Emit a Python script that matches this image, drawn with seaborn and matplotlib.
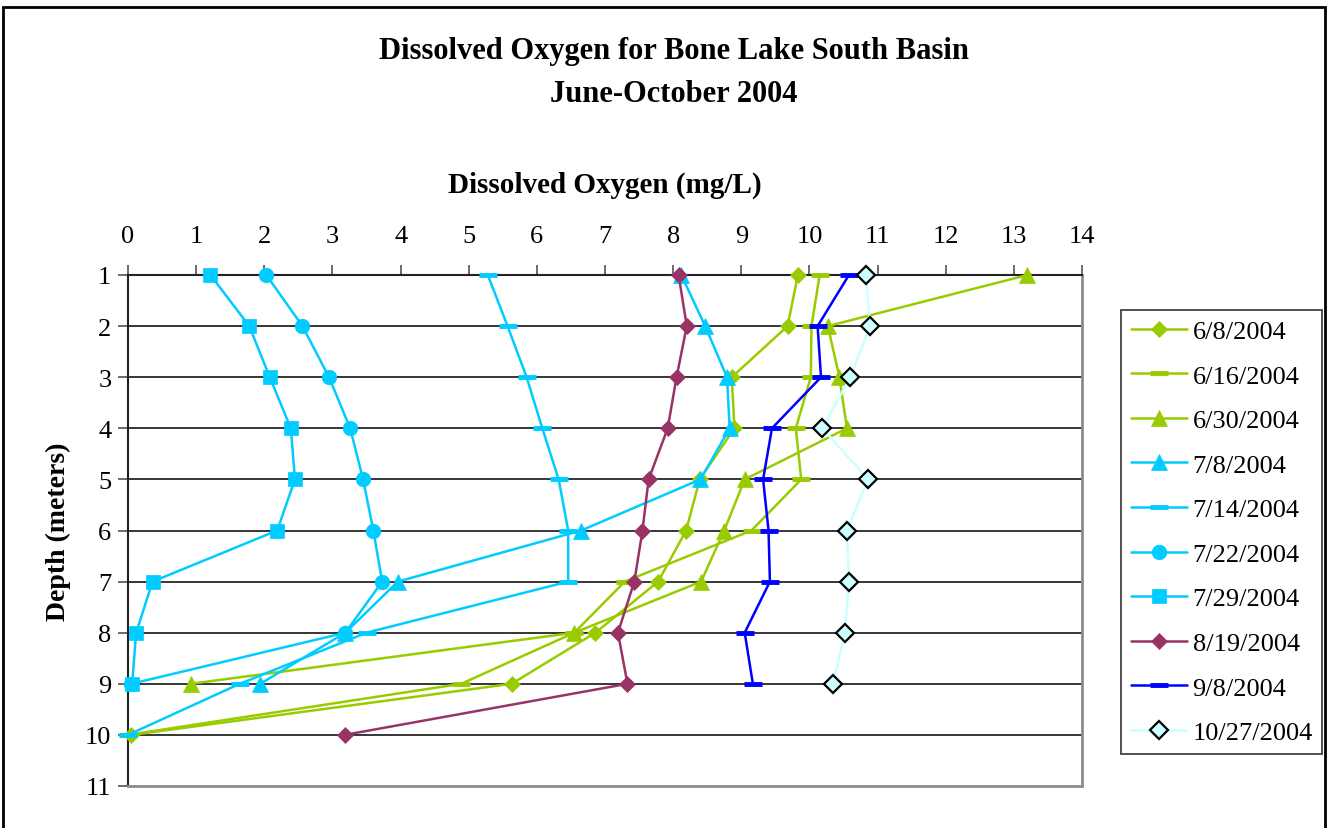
import matplotlib
matplotlib.use("Agg")
import matplotlib.pyplot as plt
import pandas as pd
import seaborn as sns
from matplotlib.patches import Rectangle
from matplotlib.lines import Line2D

# Dissolved oxygen profiles (mg/L) by depth (m), Bone Lake South Basin, 2004
depths = [1, 2, 3, 4, 5, 6, 7, 8, 9, 10]
dates = ["6/8/2004", "6/16/2004", "6/30/2004", "7/8/2004", "7/14/2004",
         "7/22/2004", "7/29/2004", "8/19/2004", "9/8/2004", "10/27/2004"]

do_0608 = [9.83, 9.68, 8.86, 8.90, 8.39, 8.19, 7.78, 6.86, 5.63, 0.05]
do_0616 = [10.15, 10.03, 10.02, 9.80, 9.88, 9.15, 7.29, 6.55, 4.89, 0.00]
do_0630 = [13.20, 10.27, 10.44, 10.55, 9.05, 8.75, 8.41, 6.55, 0.92]
do_0708 = [8.12, 8.47, 8.79, 8.83, 8.40, 6.65, 3.96, 3.19, 1.94]
do_0714 = [5.28, 5.57, 5.85, 6.08, 6.32, 6.46, 6.46, 3.50, 1.64, 0.00]
do_0722 = [2.03, 2.56, 2.95, 3.26, 3.45, 3.60, 3.73, 3.19, 0.05]
do_0729 = [1.21, 1.78, 2.08, 2.39, 2.45, 2.19, 0.36, 0.12, 0.06]
do_0819 = [8.08, 8.20, 8.05, 7.92, 7.64, 7.55, 7.43, 7.19, 7.33, 3.18]
do_0908 = [10.58, 10.12, 10.17, 9.45, 9.32, 9.40, 9.42, 9.05, 9.17]
do_1027 = [10.83, 10.89, 10.60, 10.19, 10.86, 10.55, 10.58, 10.52, 10.35]

series = [do_0608, do_0616, do_0630, do_0708, do_0714,
          do_0722, do_0729, do_0819, do_0908, do_1027]

GREEN = "#99CC00"
CYAN = "#00CCFF"
PURPLE = "#993366"
BLUE = "#0000FF"
PALE = "#CCFFFF"

styles = [
    dict(color=GREEN, marker="D", ms=8.5, mfc=GREEN, mec=GREEN, mew=0.5),
    dict(color=GREEN, marker="_", ms=13, mfc=GREEN, mec=GREEN, mew=3.5),
    dict(color=GREEN, marker="^", ms=11, mfc=GREEN, mec=GREEN, mew=0.5),
    dict(color=CYAN, marker="^", ms=11, mfc=CYAN, mec=CYAN, mew=0.5),
    dict(color=CYAN, marker="_", ms=13, mfc=CYAN, mec=CYAN, mew=3.5),
    dict(color=CYAN, marker="o", ms=10.5, mfc=CYAN, mec=CYAN, mew=0.5),
    dict(color=CYAN, marker="s", ms=10.5, mfc=CYAN, mec=CYAN, mew=0.5),
    dict(color=PURPLE, marker="D", ms=8.5, mfc=PURPLE, mec=PURPLE, mew=0.5),
    dict(color=BLUE, marker="_", ms=13, mfc=BLUE, mec=BLUE, mew=3.5),
    dict(color=PALE, marker="D", ms=9.5, mfc=PALE, mec="black", mew=1.6),
]

frames = []
for date, vals in zip(dates, series):
    frames.append(pd.DataFrame({"date": date, "depth": depths[:len(vals)], "do": vals}))
df = pd.concat(frames, ignore_index=True)

sns.set_style("white")
plt.rcParams["font.family"] = ["Liberation Serif", "DejaVu Serif"]
plt.rcParams["text.color"] = "black"
plt.rcParams["xtick.color"] = "black"
plt.rcParams["ytick.color"] = "black"
plt.rcParams["axes.labelcolor"] = "black"

fig = plt.figure(figsize=(13.29, 8.29), dpi=100)
ax = fig.add_axes([128 / 1329, 1 - 787 / 829, (1082 - 128) / 1329, (787 - 276) / 829])

# horizontal gridlines at each metre
for d in range(2, 11):
    ax.axhline(d, color="black", lw=1.1, zorder=0.5)

handles = []
for date, st in zip(dates, styles):
    sub = df[df["date"] == date]
    sns.lineplot(data=sub, x="do", y="depth", orient="y", sort=False, ax=ax,
                 color=st["color"], lw=1.8, marker=st["marker"], markersize=st["ms"],
                 markerfacecolor=st["mfc"], markeredgecolor=st["mec"],
                 markeredgewidth=st["mew"], legend=False, zorder=3, clip_on=False)
    handles.append(Line2D([], [], color=st["color"], lw=1.8, marker=st["marker"],
                          markersize=st["ms"], markerfacecolor=st["mfc"],
                          markeredgecolor=st["mec"], markeredgewidth=st["mew"],
                          label=date))

ax.set_xlim(0, 14)
ax.set_ylim(11, 1)
ax.set_xticks(range(0, 15))
ax.set_yticks(range(1, 12))
ax.xaxis.tick_top()
ax.xaxis.set_label_position("top")
ax.tick_params(axis="x", which="both", direction="out", length=7, width=1.1,
               color="#444444", pad=13, labelsize=19, top=True, bottom=False)
ax.tick_params(axis="y", which="both", direction="out", length=7, width=1.1,
               color="#444444", pad=5, labelsize=19, left=True)

for side in ("left", "top"):
    ax.spines[side].set_color("#222222")
    ax.spines[side].set_linewidth(1.5)
for side in ("right", "bottom"):
    ax.spines[side].set_color("#8c8c8c")
    ax.spines[side].set_linewidth(2.0)

ax.set_xlabel("Dissolved Oxygen (mg/L)", fontsize=21, fontweight="bold", labelpad=24)
ax.set_ylabel("Depth (meters)", fontsize=20, fontweight="bold", labelpad=10)

fig.text(674 / 1329, 1 - 52 / 829, "Dissolved Oxygen for Bone Lake South Basin",
         ha="center", va="center", fontsize=22, fontweight="bold")
fig.text(674 / 1329, 1 - 94 / 829, "June-October 2004",
         ha="center", va="center", fontsize=22, fontweight="bold")

leg = fig.legend(handles=handles, loc="upper left",
                 bbox_to_anchor=(1121 / 1329, 1 - 311 / 829),
                 frameon=True, fancybox=False, edgecolor="black", fontsize=19,
                 handlelength=2.15, handletextpad=0.2, labelspacing=0.8,
                 borderpad=0.36, borderaxespad=0.0)
leg.get_frame().set_linewidth(1.2)

# outer chart frame
fig.patches.append(Rectangle((3 / 1329, -0.02), 1322 / 1329, 1.02 - 8 / 829,
                             transform=fig.transFigure, fill=False,
                             edgecolor="black", lw=2.0))

fig.savefig("out.png", dpi=100)
